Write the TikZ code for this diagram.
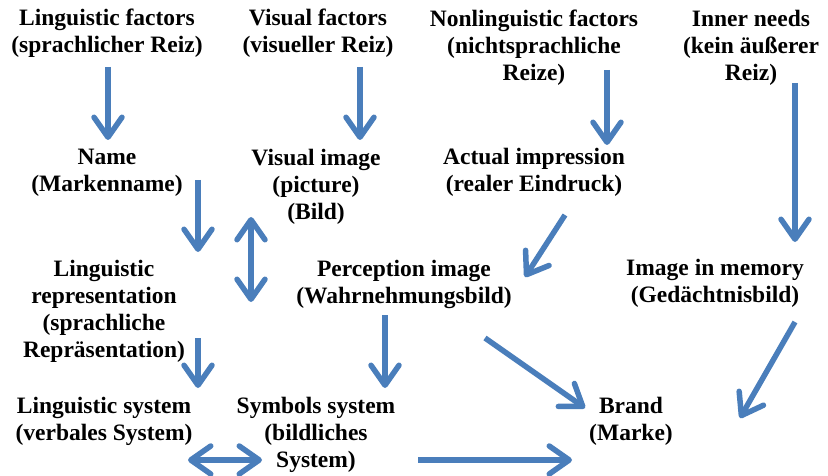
\documentclass[tikz,border=0pt]{standalone}
\usepackage{fontspec}
\setmainfont{Liberation Serif}
\usetikzlibrary{arrows.meta}
\definecolor{cblue}{HTML}{4A7EBB}
\tikzset{
  lbl/.style={font=\fontsize{23.5}{27}\selectfont\bfseries, align=center, inner sep=0pt, anchor=base},
  arr/.style={-{Straight Barb[length=20pt, width=28pt, round]}, draw=cblue, line width=5.5pt},
  dblarr/.style={{Straight Barb[length=20pt, width=28pt, round]}-{Straight Barb[length=20pt, width=28pt, round]}, draw=cblue, line width=5.5pt},
}

\begin{document}
\begin{tikzpicture}[x=1pt, y=-1pt]
  \useasboundingbox (0,0) rectangle (828,476);
  % stimuli (placed by the baseline of the last line)
  \node[lbl] (lingf) at (107,53) {Linguistic factors\\(sprachlicher Reiz)};
  \node[lbl] (visf) at (318,53) {Visual factors\\(visueller Reiz)};
  \node[lbl] (nonlf) at (534,81) {Nonlinguistic factors\\(nichtsprachliche\\Reize)};
  \node[lbl] (inner) at (751,81) {Inner needs\\(kein äußerer\\Reiz)};
  % first processing
  \node[lbl] (name) at (107,192) {Name\\(Markenname)};
  \node[lbl] (visimg) at (316,219) {Visual image\\(picture)\\(Bild)};
  \node[lbl] (actual) at (534,192) {Actual impression\\(realer Eindruck)};
  \node[lbl] (lingrep) at (104,357) {Linguistic\\representation\\(sprachliche\\Repräsentation)};
  \node[lbl] (percimg) at (404,303) {Perception image\\(Wahrnehmungsbild)};
  \node[lbl] (memimg) at (715,302) {Image in memory\\(Gedächtnisbild)};
  % systems and brand
  \node[lbl] (lingsys) at (104,440) {Linguistic system\\(verbales System)};
  \node[lbl] (symsys) at (316,467) {Symbols system\\(bildliches\\System)};
  \node[lbl] (brand) at (631,440) {Brand\\(Marke)};

  % arrow ends, free of the text
  \coordinate (lingf-o) at (108,67);   \coordinate (name-i) at (108,140);
  \coordinate (visf-o) at (360,67);    \coordinate (visimg-i) at (360,140);
  \coordinate (nonlf-o) at (607,70);   \coordinate (actual-i) at (607,145);
  \coordinate (inner-o) at (795,83);   \coordinate (memimg-i) at (795,242);
  \coordinate (name-o) at (198,180);   \coordinate (lingrep-i) at (198,252);
  \coordinate (visimg-o) at (251,217); \coordinate (percvis) at (251,302);
  \coordinate (actual-o) at (565,215); \coordinate (percimg-i) at (525,277);
  \coordinate (lingrep-o) at (198,338); \coordinate (lingsys-i) at (198,388);
  \coordinate (percimg-o) at (385,315); \coordinate (symsys-i) at (385,388);
  \coordinate (percimg-b) at (485,338); \coordinate (brand-i) at (585,408);
  \coordinate (memimg-o) at (795,322); \coordinate (brand-r) at (740,418);
  \coordinate (lingsys-r) at (188,460); \coordinate (symsys-l) at (262,460);
  \coordinate (symsys-o) at (418,460); \coordinate (brand-l) at (572,460);

  \draw[arr] (lingf-o) -- (name-i);
  \draw[arr] (visf-o) -- (visimg-i);
  \draw[arr] (nonlf-o) -- (actual-i);
  \draw[arr] (inner-o) -- (memimg-i);
  \draw[arr] (name-o) -- (lingrep-i);
  \draw[dblarr] (visimg-o) -- (percvis);
  \draw[arr] (actual-o) -- (percimg-i);
  \draw[arr] (lingrep-o) -- (lingsys-i);
  \draw[arr] (percimg-o) -- (symsys-i);
  \draw[arr] (percimg-b) -- (brand-i);
  \draw[arr] (memimg-o) -- (brand-r);
  \draw[dblarr] (lingsys-r) -- (symsys-l);
  \draw[arr] (symsys-o) -- (brand-l);
\end{tikzpicture}
\end{document}
